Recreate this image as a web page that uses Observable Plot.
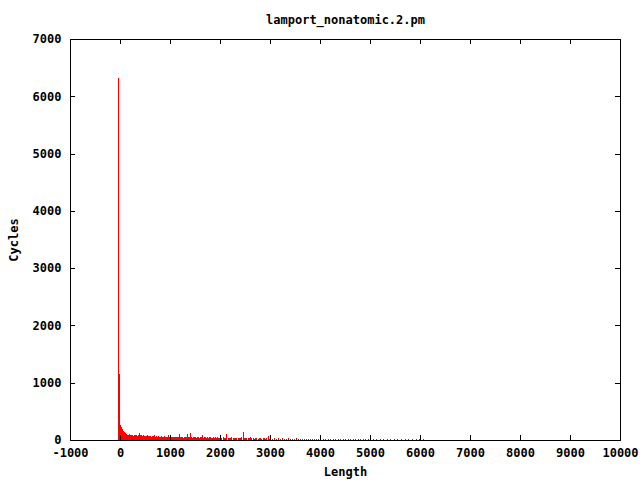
<!DOCTYPE html>
<html>
<head>
<meta charset="utf-8">
<script src="https://cdn.jsdelivr.net/npm/d3@7"></script>
<script src="https://cdn.jsdelivr.net/npm/@observablehq/plot@0.6"></script>
<style>
  html, body { margin: 0; padding: 0; background: #fff; }
</style>
</head>
<body>
<div id="chart"></div>
<script>
const title = "lamport_nonatomic.2.pm";
const xLabel = "Length";
const yLabel = "Cycles";
const xTicks = [-1000, 0, 1000, 2000, 3000, 4000, 5000, 6000, 7000, 8000, 9000, 10000];
const yTicks = [0, 1000, 2000, 3000, 4000, 5000, 6000, 7000];

const lengths = [
  -40, -20, 0, 20, 40, 60, 80, 100, 120, 140, 160, 180, 200, 220, 240, 260, 280, 300, 320, 340,
  360, 380, 400, 420, 440, 460, 480, 500, 520, 540, 560, 580, 600, 620, 640, 660, 680, 700, 720, 740,
  760, 780, 800, 820, 840, 860, 880, 900, 920, 940, 960, 980,
  1000, 1020, 1040, 1060, 1080, 1100, 1120, 1140, 1160, 1180, 1200, 1220, 1240, 1260, 1280, 1300, 1320, 1340,
  1360, 1380, 1400, 1420, 1440, 1460, 1480, 1500, 1520, 1540, 1560, 1580, 1600, 1620, 1640, 1660, 1680, 1700,
  1720, 1740, 1760, 1780, 1800, 1820, 1840, 1860, 1880, 1900, 1920, 1940, 1960, 1980,
  2000, 2025, 2050, 2075, 2100, 2125, 2150, 2175, 2200, 2225, 2250, 2275, 2300, 2325, 2350, 2375, 2400, 2425,
  2450, 2475, 2500, 2525, 2550, 2575, 2600, 2625, 2650, 2675, 2700, 2725, 2750, 2775, 2800, 2825, 2850, 2875,
  2900, 2925, 2950, 2975,
  3000, 3040, 3080, 3120, 3160, 3200, 3240, 3280, 3320, 3360, 3400, 3440, 3480, 3520, 3560, 3600, 3640, 3680,
  3720, 3760, 3800, 3840, 3880, 3920, 3960,
  4000, 4050, 4100, 4150, 4200, 4250, 4300, 4350, 4400, 4450, 4500, 4550, 4600, 4650, 4700, 4750, 4800, 4850,
  4900, 4950,
  5000, 5060, 5120, 5200, 5260, 5340, 5400, 5480, 5540, 5620, 5700, 5760, 5840, 5920, 5980, 6060,
  7460, 7760
];
const cycles = [
  6320, 1150, 260, 230, 190, 160, 140, 120, 105, 95, 90, 100, 85, 80, 90, 75, 85, 80, 95, 75,
  85, 115, 80, 90, 75, 95, 70, 75, 65, 80, 70, 65, 75, 60, 70, 65, 80, 60, 65, 55,
  70, 60, 55, 65, 60, 55, 65, 50, 60, 55, 95, 55,
  50, 60, 45, 55, 50, 60, 45, 55, 50, 105, 50, 45, 55, 40, 60, 45, 50, 100,
  45, 55, 115, 50, 40, 55, 45, 50, 40, 55, 45, 40, 50, 45, 90, 40, 50, 45,
  35, 55, 40, 45, 50, 40, 35, 45, 40, 50, 35, 45, 40, 35,
  40, 35, 45, 30, 40, 110, 35, 40, 30, 45, 35, 40, 30, 35, 40, 30, 35, 45,
  145, 35, 30, 40, 30, 35, 60, 30, 35, 25, 40, 30, 25, 35, 30, 25, 35, 30,
  25, 30, 70, 25,
  30, 25, 35, 25, 30, 20, 30, 25, 20, 30, 25, 20, 25, 30, 20, 25, 20, 25,
  20, 25, 20, 15, 25, 20, 15,
  20, 15, 20, 15, 20, 15, 20, 15, 15, 20, 15, 10, 15, 10, 15, 10, 15, 10,
  15, 10,
  15, 10, 15, 10, 10, 15, 10, 10, 15, 10, 10, 15, 10, 10, 15, 10,
  5, 5
];

const data = lengths.map((l, i) => ({length: l, cycles: cycles[i]}));

const W = 640, H = 480;
const mL = 70, mR = 20, mT = 39, mB = 40;
const fw = W - mL - mR, fh = H - mT - mB;
const tick = 5;

const chart = Plot.plot({
  width: W,
  height: H,
  marginLeft: mL,
  marginRight: mR,
  marginTop: mT,
  marginBottom: mB,
  style: {
    fontFamily: "'DejaVu Sans Mono', monospace",
    fontWeight: "bold",
    fontSize: "12px",
    background: "#fff",
    color: "#000"
  },
  x: {domain: [-1000, 10000]},
  y: {domain: [0, 7000]},
  marks: [
    Plot.ruleX(data, {x: "length", y1: 0, y2: "cycles", stroke: "#ff0000", strokeWidth: 1, shapeRendering: "crispEdges"}),
    Plot.frame({stroke: "#000", shapeRendering: "crispEdges"}),
    Plot.ruleX(xTicks, {x: d => d, insetTop: fh - tick, stroke: "#000", shapeRendering: "crispEdges"}),
    Plot.ruleX(xTicks, {x: d => d, insetBottom: fh - tick, stroke: "#000", shapeRendering: "crispEdges"}),
    Plot.ruleY(yTicks, {y: d => d, insetRight: fw - tick, stroke: "#000", shapeRendering: "crispEdges"}),
    Plot.ruleY(yTicks, {y: d => d, insetLeft: fw - tick, stroke: "#000", shapeRendering: "crispEdges"}),
    Plot.axisX({ticks: xTicks, tickSize: 0, tickPadding: 8, tickFormat: d => String(d), label: null}),
    Plot.axisY({ticks: yTicks, tickSize: 0, tickPadding: 9, tickFormat: d => String(d), label: null}),
    Plot.text([xLabel], {frameAnchor: "bottom", dy: 35, text: d => d}),
    Plot.text([yLabel], {frameAnchor: "left", textAnchor: "middle", dx: -56, rotate: -90, text: d => d}),
    Plot.text([title], {frameAnchor: "top", dy: -24, text: d => d})
  ]
});
document.getElementById("chart").appendChild(chart);
</script>
</body>
</html>
